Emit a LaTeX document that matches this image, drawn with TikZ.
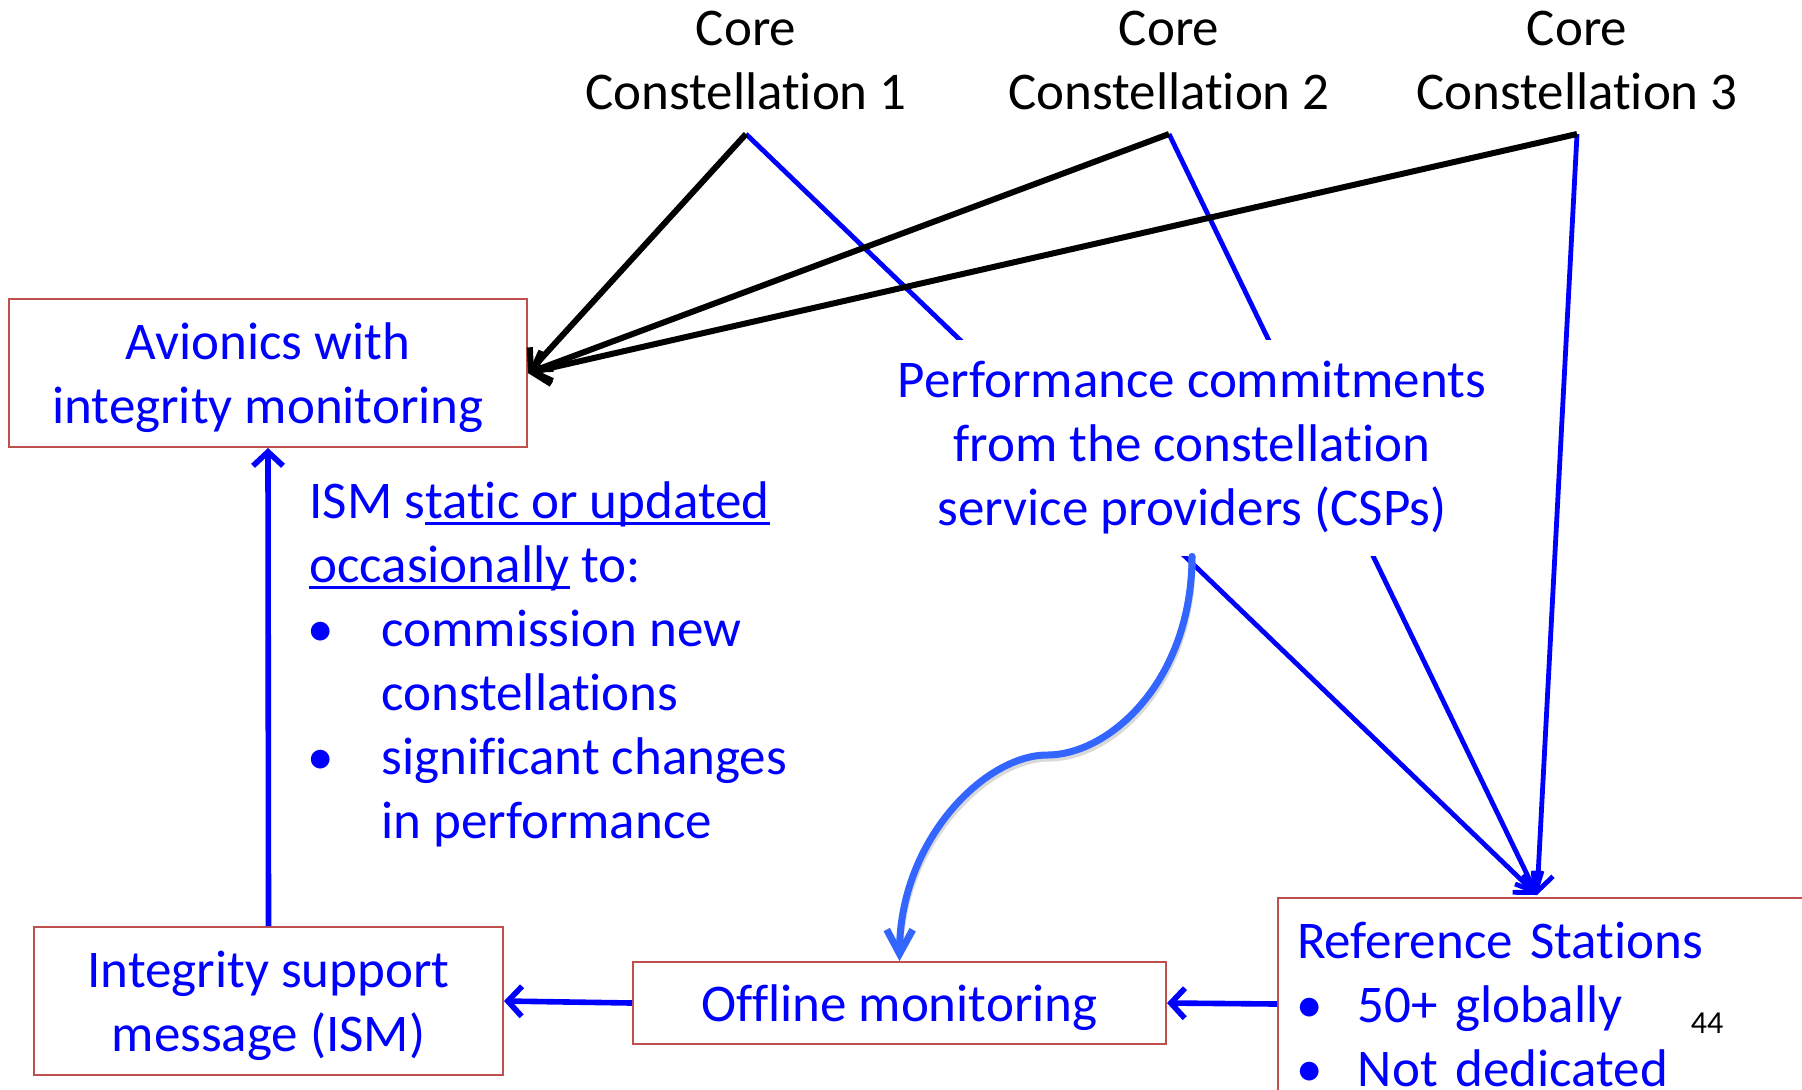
\documentclass[tikz,border=0pt]{standalone}
\usepackage{fontspec}
\setmainfont{Carlito}[Ligatures={NoCommon}]
\usetikzlibrary{arrows.meta}
\definecolor{boxred}{RGB}{192,80,77}
\definecolor{curveblue}{RGB}{51,102,255}
\newcommand{\uln}[1]{\setbox0\hbox{#1}\rlap{\rule[-3.2pt]{\wd0}{1.2pt}}\box0{}}
\newcommand{\lowr}{\rule{0pt}{23pt}}
\begin{document}
\begin{tikzpicture}[x=0.5pt, y=0.5pt,
            txt/.style={font=\fontsize{26.5}{32}\selectfont, text=blue},
            box/.style={txt, draw=boxred, line width=1pt, align=center, inner sep=0pt},
            core/.style={font=\fontsize{26.5}{32}\selectfont, anchor=south, align=center, inner xsep=0pt, inner ysep=12pt},
            blk/.style={black, line width=3pt, -{Straight Barb[length=8pt,width=16pt]}},
            bln/.style={blue, line width=2.4pt, -{Straight Barb[length=8pt,width=15pt]}},
            bla/.style={blue, line width=2.8pt, -{Straight Barb[length=7pt,width=15pt]}},
            crv/.style={curveblue, line width=3.5pt, line cap=round, -{Straight Barb[length=12pt,width=13pt]}}]
            \useasboundingbox (0,0) rectangle (1802,-1089);

            \node (cc1) at (746,-134)[core]{Core\\Constellation 1};
            \node (cc2) at (1169,-134)[core]{Core\\Constellation 2};
            \node (cc3) at (1577,-134)[core]{Core\\Constellation 3};

            \node (avi) at (268,-373)[box, minimum width=259pt, minimum height=74pt]{\lowr Avionics with\\integrity monitoring};
            \node (ism) at (268.5,-1001)[box, minimum width=234.5pt, minimum height=74pt]{\lowr Integrity support\\message (ISM)};
            \node (off) at (899.5,-1003)[box, minimum width=266.5pt, minimum height=41pt]{\lowr Offline monitoring};
            \node (refst) at (1277,-897)[box, anchor=north west, align=left, text width=300pt, minimum height=106pt, inner xsep=9.5pt]{Reference Stations\\
                \makebox[30.5pt][l]{\hspace{-0.5pt}\textbullet}50+ globally\\
                \makebox[30.5pt][l]{\hspace{-0.5pt}\textbullet}Not dedicated};
            \coordinate (rstop) at (1537,-895);
            \node (pgno) at (1707,-1023)[font=\fontsize{16}{19}\selectfont]{44};

            \draw[bln] (cc1.south) -- (rstop);
            \draw[bln] (cc2.south) -- (rstop);
            \draw[bln] (cc3.south) -- (rstop);
            \draw[blk] (cc1.south) -- (avi.east);
            \draw[blk] (cc2.south) -- (avi.east);
            \draw[blk] (cc3.south) -- (avi.east);

            \node (perf) at (1192,-448)[txt, fill=white, align=center, inner xsep=10pt, minimum height=108pt]{Performance commitments\\from the constellation\\service providers (CSPs)};

            \draw[crv, black!25, opacity=0.6, shift={(2,-3)}] (perf.south) .. controls (1192,-680) and (1110,-755) .. (1047,-755) .. controls (985,-755) and (900,-840) .. (off.north);
            \draw[crv] (perf.south) .. controls (1192,-680) and (1110,-755) .. (1047,-755) .. controls (985,-755) and (900,-840) .. (off.north);

            \draw[bla] (refst.west) -- (off.east);
            \draw[bla] (off.west) -- (ism.east);
            \draw[bla] (ism.north) -- (avi.south);

            \node (ismtxt) at (309,-481)[txt, anchor=north west, align=left, inner sep=0pt]{ISM s\uln{tatic or updated}\\
                \uln{occasionally} to:\\
                \makebox[36pt][l]{\hspace{-1pt}\textbullet}commission new\\
                \hspace*{36pt}constellations\\
                \makebox[36pt][l]{\hspace{-1pt}\textbullet}significant changes\\
                \hspace*{36pt}in performance};
        \end{tikzpicture}
\end{document}
